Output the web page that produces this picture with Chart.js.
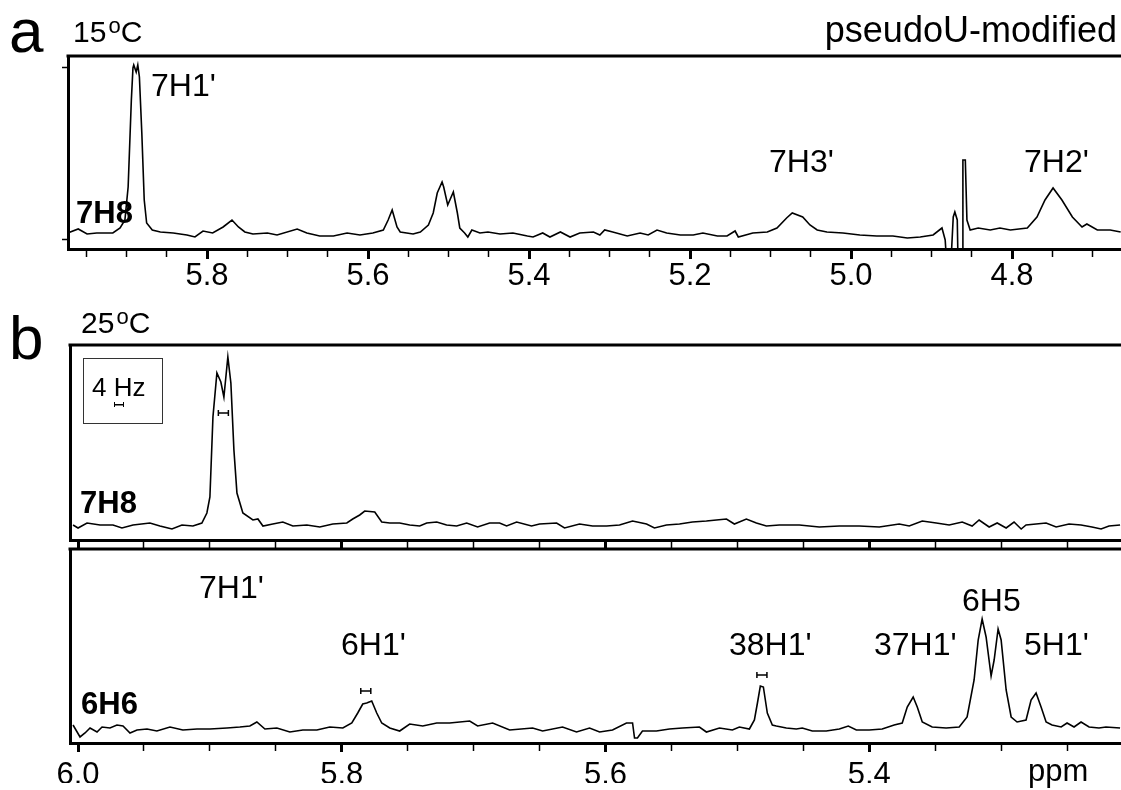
<!DOCTYPE html>
<html>
<head>
<meta charset="utf-8">
<title>pseudoU-modified 1H spectra</title>
<script src="https://cdn.jsdelivr.net/npm/chart.js@4.4.1/dist/chart.umd.min.js"></script>
<style>
  html, body { margin: 0; padding: 0; background: #fff; overflow: hidden; }
  #page { position: relative; width: 1121px; height: 790px; overflow: hidden; font-family: 'Liberation Sans', Arial, sans-serif; color: #000; }
  #page canvas { position: absolute; left: 0; top: 0; }
  .lbl { position: absolute; font-size: 32px; line-height: 1; white-space: nowrap; }
  .bold { font-weight: bold; font-size: 31px; }
  .panel { font-size: 62px; }
  .temp { font-size: 30px; }
  .temp sup { font-size: 22px; vertical-align: 0; position: relative; top: -9px; margin-left: 2px; }
  #hzbox { position: absolute; left: 83px; top: 358px; width: 78px; height: 64px; border: 1px solid #333; }
  #hzbar { position: absolute; left: 114px; top: 402px; width: 8px; height: 5px; border-left: 1.5px solid #000; border-right: 1.5px solid #000;
           background: linear-gradient(#000, #000) no-repeat center / 100% 1.5px; }
</style>
</head>
<body>
<div id="page">
  <canvas id="specA" width="1121" height="790"></canvas>
  <canvas id="specB1" width="1121" height="790"></canvas>
  <canvas id="specB2" width="1121" height="790"></canvas>

  <div class="lbl panel" style="left:9px;top:0px">a</div>
  <div class="lbl temp" style="left:73px;top:17px">15<sup>o</sup>C</div>
  <div class="lbl" style="right:4px;top:12px;font-size:36px">pseudoU-modified</div>
  <div class="lbl" style="left:151px;top:69px">7H1'</div>
  <div class="lbl bold" style="left:76px;top:197px">7H8</div>
  <div class="lbl" style="left:769px;top:145px">7H3'</div>
  <div class="lbl" style="left:1024px;top:145px">7H2'</div>

  <div class="lbl panel" style="left:9px;top:307px">b</div>
  <div class="lbl temp" style="left:81px;top:308px">25<sup>o</sup>C</div>
  <div id="hzbox"></div>
  <div class="lbl" style="left:92px;top:374px;font-size:26px">4 Hz</div>
  <div id="hzbar"></div>
  <div class="lbl bold" style="left:80px;top:487px">7H8</div>

  <div class="lbl" style="left:199px;top:571px">7H1'</div>
  <div class="lbl" style="left:341px;top:628px">6H1'</div>
  <div class="lbl bold" style="left:81px;top:688px">6H6</div>
  <div class="lbl" style="left:729px;top:628px">38H1'</div>
  <div class="lbl" style="left:874px;top:628px">37H1'</div>
  <div class="lbl" style="left:962px;top:584px">6H5</div>
  <div class="lbl" style="left:1024px;top:628px">5H1'</div>
  <div class="lbl" style="left:1028px;top:755px;font-size:31px">ppm</div>
</div>

<script>
// ---- data (ppm, intensity in arbitrary units) ----

// a: 15 C, 7H8 strip
const ppmA = [5.973,5.960,5.949,5.937,5.917,5.908,5.902,5.898,5.894,5.892,
  5.891,5.888,5.886,5.884,5.881,5.878,5.875,5.868,5.858,5.842,
  5.825,5.815,5.805,5.793,5.780,5.769,5.761,5.753,5.743,5.725,
  5.713,5.688,5.676,5.660,5.643,5.626,5.610,5.594,5.581,5.575,
  5.570,5.564,5.560,5.544,5.535,5.525,5.519,5.514,5.508,5.506,
  5.501,5.494,5.489,5.486,5.480,5.476,5.471,5.461,5.451,5.436,
  5.420,5.402,5.395,5.383,5.374,5.361,5.349,5.337,5.320,5.312,
  5.306,5.296,5.278,5.262,5.252,5.241,5.229,5.212,5.196,5.184,
  5.166,5.154,5.144,5.140,5.122,5.104,5.092,5.080,5.073,5.060,
  5.051,5.042,5.030,5.010,4.989,4.968,4.948,4.930,4.914,4.898,
  4.887,4.883,4.881,4.876,4.873,4.871,4.868,4.867,4.862,4.861,
  4.858,4.856,4.852,4.842,4.827,4.815,4.802,4.781,4.769,4.759,
  4.749,4.738,4.725,4.713,4.707,4.694,4.678,4.665];
const intA = [17,21,16,17,17,22,30,63,150,182,
  185,178,185,173,117,50,27,20,18,17,
  15,13,19,17,23,30,23,18,16,17,
  15,21,17,14,14,17,15,17,20,30,
  40,23,18,16,18,25,37,57,68,63,
  45,58,37,22,17,13,20,17,18,16,
  17,14,13,17,13,18,13,17,18,15,
  20,18,14,17,15,20,17,15,15,17,
  14,14,19,13,17,18,22,32,37,33,
  25,20,18,17,15,14,14,12,13,15,
  22,10,-15,-15,33,38,30,-15,-15,90,
  90,30,20,22,20,22,20,22,33,50,
  62,50,33,23,26,20,20,18];

// b: 25 C, 7H8 strip
const ppmB1 = [6.0038,6.0000,5.9932,5.9833,5.9735,5.9667,5.9583,5.9455,5.9379,5.9288,
  5.9212,5.9129,5.9061,5.9023,5.9000,5.8977,5.8947,5.8917,5.8894,5.8864,
  5.8841,5.8818,5.8795,5.8750,5.8674,5.8636,5.8598,5.8523,5.8447,5.8371,
  5.8265,5.8167,5.8068,5.7962,5.7917,5.7864,5.7826,5.7750,5.7697,5.7636,
  5.7561,5.7485,5.7409,5.7356,5.7280,5.7205,5.7129,5.7053,5.6970,5.6879,
  5.6803,5.6750,5.6674,5.6561,5.6500,5.6371,5.6311,5.6197,5.6098,5.5992,
  5.5894,5.5795,5.5689,5.5629,5.5538,5.5439,5.5341,5.5235,5.5159,5.5083,
  5.5023,5.4932,5.4856,5.4780,5.4682,5.4530,5.4379,5.4227,5.4076,5.3924,
  5.3773,5.3697,5.3598,5.3492,5.3394,5.3295,5.3220,5.3167,5.3091,5.3030,
  5.2962,5.2902,5.2848,5.2811,5.2659,5.2583,5.2485,5.2394,5.2311,5.2242,
  5.2182,5.2098];
const intB1 = [15,12,17,15,15,12,15,17,14,11,
  15,14,17,27,43,123,167,158,143,183,
  157,90,47,27,20,21,14,16,18,14,
  15,13,16,17,21,25,29,28,18,17,
  17,15,14,17,18,15,14,17,13,17,
  17,14,18,14,16,17,12,16,14,14,
  15,19,16,12,15,16,18,19,20,21,
  16,21,17,14,15,15,13,14,14,13,
  16,14,19,17,15,18,14,20,13,17,
  12,18,11,15,17,13,16,15,13,11,
  14,15];

// b: 25 C, 6H6 strip
const ppmB2 = [6.0038,5.9985,5.9947,5.9909,5.9856,5.9818,5.9758,5.9705,5.9659,5.9606,
  5.9553,5.9477,5.9402,5.9303,5.9205,5.9098,5.9000,5.8871,5.8773,5.8697,
  5.8644,5.8583,5.8492,5.8394,5.8295,5.8189,5.8091,5.7992,5.7924,5.7879,
  5.7841,5.7811,5.7773,5.7735,5.7697,5.7636,5.7561,5.7485,5.7386,5.7280,
  5.7182,5.7030,5.6970,5.6856,5.6727,5.6553,5.6477,5.6326,5.6220,5.6121,
  5.6045,5.5947,5.5841,5.5795,5.5780,5.5758,5.5720,5.5614,5.5515,5.5417,
  5.5288,5.5235,5.5136,5.5038,5.4985,5.4909,5.4871,5.4848,5.4826,5.4803,
  5.4773,5.4735,5.4705,5.4629,5.4553,5.4508,5.4432,5.4326,5.4227,5.4159,
  5.4098,5.4000,5.3902,5.3811,5.3750,5.3712,5.3667,5.3636,5.3598,5.3523,
  5.3417,5.3318,5.3258,5.3205,5.3174,5.3144,5.3114,5.3076,5.3053,5.3023,
  5.3000,5.2962,5.2924,5.2879,5.2811,5.2773,5.2735,5.2697,5.2659,5.2614,
  5.2545,5.2500,5.2447,5.2394,5.2333,5.2258,5.2205,5.2098];
const intB2 = [18,6,10,15,11,16,15,18,17,10,
  13,14,12,16,13,14,14,15,16,17,
  21,14,15,11,13,13,16,15,20,30,
  39,40,42,30,20,15,12,19,17,20,
  20,22,17,20,13,15,12,16,11,15,
  11,13,20,20,5,5,12,12,14,15,
  16,11,15,13,16,14,23,40,57,56,
  30,18,17,15,14,15,12,12,14,17,
  13,13,14,18,20,36,46,36,21,16,
  15,16,26,63,103,124,106,67,83,114,
  103,53,26,21,23,43,50,36,21,18,
  16,20,16,21,16,15,16,15];

// 4 Hz linewidth markers (ppm centre, intensity)
const barPpmB1 = [5.8898];
const barIntB1 = [127];
const barPpmB2 = [5.7818, 5.4814];
const barIntB2 = [52, 68];
const HZ4_PPM = 0.0076;

// axis ticks
const xTicksA = [5.95,5.9,5.85,5.8,5.75,5.7,5.65,5.6,5.55,5.5,5.45,5.4,5.35,5.3,5.25,5.2,5.15,5.1,5.05,5.0,4.95,4.9,4.85,4.8,4.75,4.7];
const xTicksB = [6.0,5.95,5.9,5.85,5.8,5.75,5.7,5.65,5.6,5.55,5.5,5.45,5.4,5.35,5.3,5.25];
const yTicksA = [11, 183];

Chart.defaults.font.family = "'Liberation Sans', Arial, sans-serif";
Chart.defaults.color = '#000';

const AXIS_H = 40;
const isMajor = v => Math.abs(v * 5 - Math.round(v * 5)) < 1e-6;

// top edge of each box + the small linewidth bars
const framePlugin = {
    id: 'frame',
    afterDraw(chart, args, opts) {
        const { ctx, chartArea: a, scales } = chart;
        ctx.save();
        ctx.strokeStyle = '#000';
        ctx.lineWidth = 3;
        ctx.beginPath();
        ctx.moveTo(a.left - 1.5, a.top);
        ctx.lineTo(chart.width + 2, a.top);
        ctx.stroke();

        ctx.lineWidth = 1.5;
        const ppm = opts.barPpm || [];
        ppm.forEach((p, i) => {
            const x1 = scales.x.getPixelForValue(p + HZ4_PPM / 2);
            const x2 = scales.x.getPixelForValue(p - HZ4_PPM / 2);
            const y = scales.y.getPixelForValue(opts.barInt[i]);
            ctx.beginPath();
            ctx.moveTo(x1, y); ctx.lineTo(x2, y);
            ctx.moveTo(x1, y - 3); ctx.lineTo(x1, y + 3);
            ctx.moveTo(x2, y - 3); ctx.lineTo(x2, y + 3);
            ctx.stroke();
        });
        ctx.restore();
    }
};

function spectrumChart(id, ppm, inten, o) {
    const ctx = document.getElementById(id).getContext('2d');
    return new Chart(ctx, {
        type: 'line',
        data: {
            datasets: [{
                data: ppm.map((p, i) => ({ x: p, y: inten[i] })),
                borderColor: '#000',
                borderWidth: 1.6,
                pointRadius: 0,
                tension: 0,
                fill: false
            }]
        },
        options: {
            responsive: false,
            animation: false,
            events: [],
            layout: { padding: { left: 0, right: 0, top: o.top, bottom: 790 - o.bottom - AXIS_H } },
            plugins: {
                legend: { display: false },
                tooltip: { enabled: false },
                frame: { barPpm: o.barPpm, barInt: o.barInt }
            },
            scales: {
                x: {
                    type: 'linear',
                    reverse: true,
                    min: o.xMin,
                    max: o.xMax,
                    afterFit: s => { s.height = AXIS_H; s.paddingLeft = 0; s.paddingRight = 0; },
                    afterBuildTicks: s => { s.ticks = o.xTicks.map(v => ({ value: v })); },
                    border: { display: true, color: '#000', width: 3 },
                    grid: {
                        drawOnChartArea: false,
                        tickLength: o.tickLen,
                        tickColor: '#000',
                        tickWidth: c => isMajor(c.tick.value) ? 3 : 1.5,
                        tickBorderDash: c => (isMajor(c.tick.value) || !o.minorDash) ? [] : o.minorDash
                    },
                    ticks: {
                        display: o.labels,
                        autoSkip: false,
                        maxRotation: 0,
                        padding: o.labelPad,
                        font: { size: 31 },
                        color: '#000',
                        callback: v => isMajor(v) ? v.toFixed(1) : ''
                    }
                },
                y: {
                    type: 'linear',
                    min: o.yMin,
                    max: o.yMax,
                    afterFit: s => { s.width = o.left; },
                    afterBuildTicks: s => { s.ticks = o.yTicks.map(v => ({ value: v })); },
                    border: { display: true, color: '#000', width: 3 },
                    grid: {
                        drawOnChartArea: false,
                        drawTicks: o.yTicks.length > 0,
                        tickLength: 6,
                        tickWidth: 1.5,
                        tickColor: '#000'
                    },
                    ticks: { display: false }
                }
            }
        },
        plugins: [framePlugin]
    });
}

spectrumChart('specA', ppmA, intA, {
    top: 56, bottom: 249, left: 68,
    xMin: 4.6646, xMax: 5.9727, yMin: 1, yMax: 194,
    xTicks: xTicksA, yTicks: yTicksA,
    tickLen: 10, minorDash: [6, 40], labels: true, labelPad: -1
});

spectrumChart('specB1', ppmB1, intB1, {
    top: 345, bottom: 540, left: 70,
    xMin: 5.2091, xMax: 6.0061, yMin: 0, yMax: 195,
    xTicks: xTicksB, yTicks: [],
    tickLen: 9, minorDash: null, labels: false, labelPad: 0,
    barPpm: barPpmB1, barInt: barIntB1
});

spectrumChart('specB2', ppmB2, intB2, {
    top: 549, bottom: 743, left: 70,
    xMin: 5.2091, xMax: 6.0061, yMin: 0, yMax: 194,
    xTicks: xTicksB, yTicks: [],
    tickLen: 9, minorDash: [6, 40], labels: true, labelPad: 5,
    barPpm: barPpmB2, barInt: barIntB2
});
</script>
</body>
</html>
